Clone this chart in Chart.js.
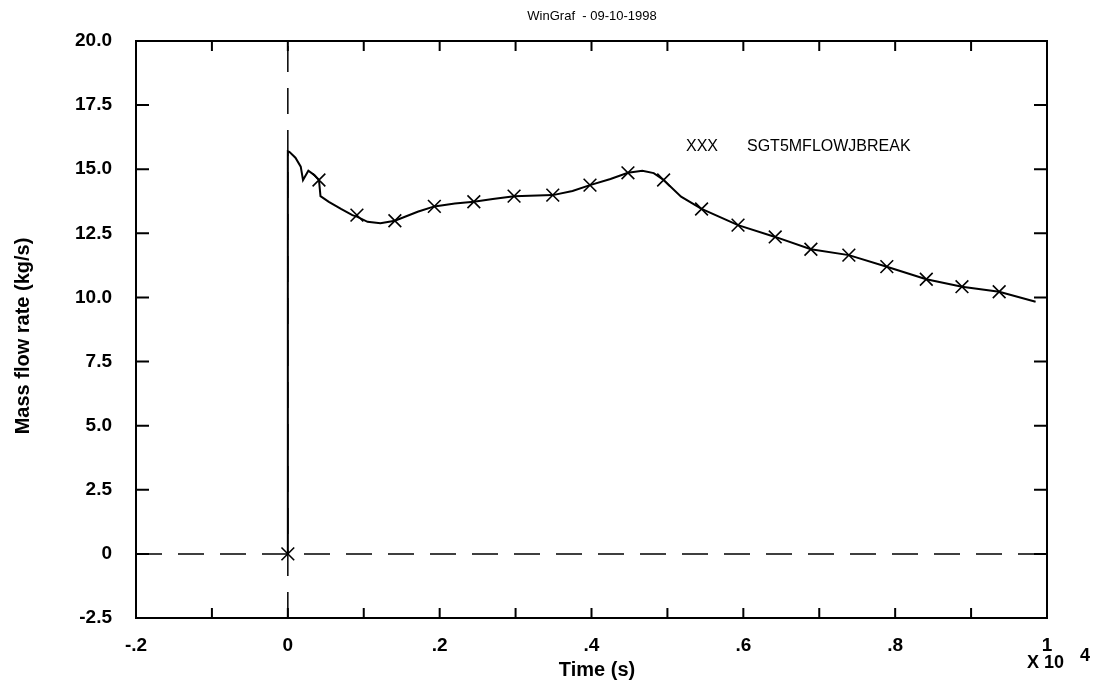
<!DOCTYPE html>
<html>
<head>
<meta charset="utf-8">
<script src="https://cdn.jsdelivr.net/npm/chart.js@4"></script>
<style>
  body { margin: 0; background: #fff; }
  canvas { display: block; }
</style>
</head>
<body>
<canvas id="myChart" width="1098" height="687"></canvas>
<script>
// time in units of 10^4 s, flow in kg/s
const curveTime = [0, 0, 0.002, 0.010, 0.017, 0.020, 0.027, 0.035, 0.041, 0.043, 0.054, 0.070, 0.085, 0.091, 0.105, 0.122, 0.141, 0.171, 0.193, 0.220, 0.245, 0.270, 0.298, 0.349, 0.375, 0.398, 0.425, 0.448, 0.467, 0.482, 0.495, 0.518, 0.545, 0.593, 0.642, 0.689, 0.739, 0.789, 0.841, 0.888, 0.937, 0.985]
const curveFlow = [0, 15.7, 15.68, 15.45, 15.10, 14.58, 14.94, 14.77, 14.58, 13.95, 13.73, 13.45, 13.21, 13.15, 12.95, 12.89, 12.99, 13.34, 13.55, 13.66, 13.73, 13.84, 13.95, 13.99, 14.15, 14.38, 14.62, 14.86, 14.94, 14.85, 14.58, 13.93, 13.45, 12.82, 12.36, 11.88, 11.65, 11.20, 10.71, 10.42, 10.22, 9.83]

const markTime = [0, 0.041, 0.091, 0.141, 0.193, 0.245, 0.298, 0.349, 0.398, 0.448, 0.495, 0.545, 0.593, 0.642, 0.689, 0.739, 0.789, 0.841, 0.888, 0.937]
const markFlow = [0, 14.58, 13.21, 12.99, 13.55, 13.73, 13.95, 13.99, 14.38, 14.86, 14.58, 13.45, 12.82, 12.36, 11.88, 11.65, 11.20, 10.71, 10.42, 10.22]

const xTickLabels = ['-.2', '0', '.2', '.4', '.6', '.8', '1']
const yTickLabels = ['-2.5', '0', '2.5', '5.0', '7.5', '10.0', '12.5', '15.0', '17.5', '20.0']
const xMinorTicks = [-0.2, -0.1, 0, 0.1, 0.2, 0.3, 0.4, 0.5, 0.6, 0.7, 0.8, 0.9, 1]

const FONT = '"Liberation Sans", Arial, Helvetica, sans-serif'

let toPoints = (xs, ys) => xs.map((x, i) => ({ x: x, y: ys[i] }))

const frame = {
    id: 'frame',
    afterDraw: (chart) => {
        const ctx = chart.ctx
        const a = chart.chartArea
        const xs = chart.scales.x
        const ys = chart.scales.y
        ctx.save()
        ctx.strokeStyle = '#000'
        ctx.lineWidth = 2
        ctx.strokeRect(a.left, a.top, a.right - a.left, a.bottom - a.top)

        ctx.beginPath()
        xMinorTicks.forEach(v => {
            const px = xs.getPixelForValue(v)
            ctx.moveTo(px, a.bottom); ctx.lineTo(px, a.bottom - 10)
            ctx.moveTo(px, a.top); ctx.lineTo(px, a.top + 10)
        })
        ys.ticks.forEach(t => {
            const py = ys.getPixelForValue(t.value)
            ctx.moveTo(a.left, py); ctx.lineTo(a.left + 13, py)
            ctx.moveTo(a.right, py); ctx.lineTo(a.right - 13, py)
        })
        ctx.stroke()

        ctx.fillStyle = '#000'
        ctx.textBaseline = 'middle'
        ctx.textAlign = 'center'
        ctx.font = '13px ' + FONT
        ctx.fillText('WinGraf  - 09-10-1998', 592, 16)

        ctx.font = 'bold 20px ' + FONT
        ctx.fillText('Time (s)', 597, 670)

        ctx.textAlign = 'left'
        ctx.font = 'bold 18px ' + FONT
        ctx.fillText('X 10', 1027, 663)
        ctx.fillText('4', 1080, 656)

        ctx.font = '16px ' + FONT
        ctx.fillText('XXX', 686, 147)
        ctx.fillText('SGT5MFLOWJBREAK', 747, 147)

        ctx.translate(23, 336)
        ctx.rotate(-Math.PI / 2)
        ctx.textAlign = 'center'
        ctx.font = 'bold 20px ' + FONT
        ctx.fillText('Mass flow rate (kg/s)', 0, 0)
        ctx.restore()
    }
}

let plot = () => {
    const ctx = document.getElementById('myChart')

    const dataset = {
        datasets: [{
            label: 'zero',
            data: toPoints([-0.2, 1], [0, 0]),
            showLine: true,
            borderColor: '#000',
            borderWidth: 1.5,
            borderDash: [26, 16],
            pointRadius: 0
        }, {
            label: 'origin',
            data: toPoints([0, 0], [-2.5, 20]),
            showLine: true,
            borderColor: '#000',
            borderWidth: 1.5,
            borderDash: [26, 16],
            pointRadius: 0
        }, {
            label: 'SGT5MFLOWJBREAK',
            data: toPoints(curveTime, curveFlow),
            showLine: true,
            borderColor: '#000',
            borderWidth: 2,
            tension: 0,
            pointRadius: 0
        }, {
            label: 'XXX',
            data: toPoints(markTime, markFlow),
            showLine: false,
            pointStyle: 'crossRot',
            pointRadius: 9,
            borderColor: '#000',
            borderWidth: 1.6
        }]
    }

    const config = {
        type: 'scatter',
        data: dataset,
        options: {
            responsive: false,
            animation: false,
            layout: { padding: { top: 41, right: 51, left: 0, bottom: 0 } },
            plugins: {
                legend: { display: false },
                tooltip: { enabled: false }
            },
            scales: {
                x: {
                    type: 'linear',
                    min: -0.2,
                    max: 1,
                    afterFit: (s) => { s.height = 69 },
                    grid: { display: false },
                    border: { display: false },
                    ticks: {
                        stepSize: 0.2,
                        padding: 8,
                        color: '#000',
                        font: { family: FONT, size: 19, weight: 'bold' },
                        maxRotation: 0,
                        callback: (v, i) => xTickLabels[i]
                    }
                },
                y: {
                    type: 'linear',
                    min: -2.5,
                    max: 20,
                    afterFit: (s) => { s.width = 136 },
                    grid: { display: false },
                    border: { display: false },
                    ticks: {
                        stepSize: 2.5,
                        padding: 16,
                        color: '#000',
                        font: { family: FONT, size: 19, weight: 'bold' },
                        callback: (v, i) => yTickLabels[i]
                    }
                }
            }
        },
        plugins: [frame]
    }

    const chart = new Chart(ctx, config)
}

plot()
</script>
</body>
</html>
